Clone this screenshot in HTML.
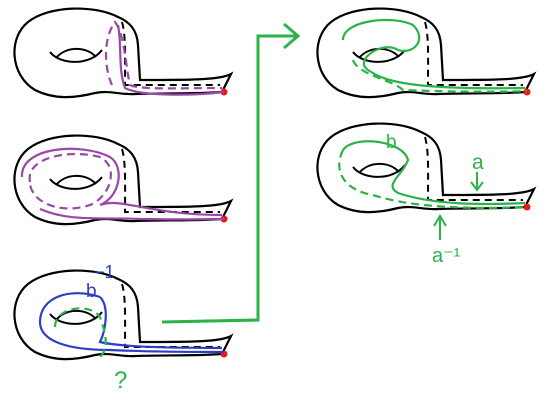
<!DOCTYPE html>
<html><head><meta charset="utf-8"><style>
html,body{margin:0;padding:0;background:#fff;width:550px;height:403px;overflow:hidden}
svg{display:block}
text{font-family:"Liberation Sans",sans-serif}
</style></head><body>
<svg width="550" height="403" viewBox="0 0 550 403">
<defs>
<g id="torus">
  <path d="M118,17 C95,5 50,5 28,22 C8,38 10,75 35,90 C55,100 75,98 95,93 C110,90 120,95 135,94 C165,93 195,94 222,92 L231,74 C220,80 190,80 140,80 L138,45 C137,30 130,22 118,17 Z" fill="none" stroke="#000" stroke-width="2.2"/>
  <path d="M50,52 C60,65 90,66 102,50" fill="none" stroke="#000" stroke-width="2"/>
  <path d="M56,58 C66,46 86,46 96,57" fill="none" stroke="#000" stroke-width="2"/>
  <path d="M122,22 C126,35 125,60 125,85 L220,85" fill="none" stroke="#000" stroke-width="2" stroke-dasharray="7,5"/>
  <circle cx="224" cy="92" r="3.5" fill="#e8191c"/>
</g>
</defs>

<g>
  <use href="#torus"/>
  <path d="M112,85 C105,70 102,40 115,22 C125,35 126,70 130,85 C140,90 180,88 222,88" fill="none" stroke="#9a48a8" stroke-width="2.2" stroke-dasharray="8,5"/>
  <path d="M118,25 C122,45 118,70 125,88 C140,96 190,96 224,92" fill="none" stroke="#9a48a8" stroke-width="2.2"/>
</g>

<g transform="translate(0,127)">
  <use href="#torus"/>
  <path d="M30,55 C25,30 70,22 100,30 C120,40 110,70 90,78 C60,88 30,75 30,55 Z" fill="none" stroke="#9a48a8" stroke-width="2.2" stroke-dasharray="8,5"/>
  <path d="M22,50 C20,20 80,15 110,30 C125,40 120,70 100,78 C120,70 150,88 222,88" fill="none" stroke="#9a48a8" stroke-width="2.2"/>
  <path d="M40,82 C70,95 100,90 140,92 C180,93 210,92 224,92" fill="none" stroke="#9a48a8" stroke-width="2.2"/>
</g>

<g transform="translate(0,262)">
  <use href="#torus"/>
  <path d="M100,35 C70,25 40,35 40,60 C40,80 70,88 110,88 C150,90 200,90 224,90" fill="none" stroke="#2c3fc4" stroke-width="2.2"/>
  <path d="M100,35 C110,45 105,70 100,80 C120,85 170,86 222,86" fill="none" stroke="#2c3fc4" stroke-width="2.2"/>
  <path d="M55,65 C55,45 90,40 100,55 C105,70 110,85 100,95" fill="none" stroke="#2bb34a" stroke-width="2.2" stroke-dasharray="8,5"/>
</g>

<g transform="translate(303,0)">
  <use href="#torus"/>
  <path d="M40,40 C40,20 90,15 110,25 C125,40 110,55 95,50 C80,40 50,60 65,70 C80,80 100,90 222,88" fill="none" stroke="#2bb34a" stroke-width="2.2"/>
  <path d="M50,60 C55,75 90,80 100,90 C150,92 200,92 224,91" fill="none" stroke="#2bb34a" stroke-width="2.2" stroke-dasharray="8,5"/>
</g>

<g transform="translate(303,115)">
  <use href="#torus"/>
  <path d="M40,35 C50,20 100,25 105,45 C100,60 80,70 95,78 C130,90 180,90 222,88" fill="none" stroke="#2bb34a" stroke-width="2.2"/>
  <path d="M40,35 C30,55 40,75 70,80 C100,90 150,95 224,92" fill="none" stroke="#2bb34a" stroke-width="2.2" stroke-dasharray="8,5"/>
</g>

<g fill="none" stroke="#2bb34a" stroke-width="3">
  <path d="M162,322 L258,320 L258,36 L296,36"/>
  <path d="M284,24 L298,36 L284,48"/>
</g>

<text x="94" y="278" font-size="18" fill="#2c3fc4">−1</text>
<text x="86" y="297" font-size="19" fill="#2c3fc4">b</text>
<text x="114" y="388" font-size="24" fill="#2bb34a">?</text>
<text x="386" y="148" font-size="19" fill="#2bb34a">b</text>
<text x="472" y="169" font-size="21" fill="#2bb34a">a</text>
<path d="M477,172 L477,188 M471,182 L477,190 L483,182" fill="none" stroke="#2bb34a" stroke-width="2"/>
<text x="432" y="262" font-size="20" fill="#2bb34a">a⁻¹</text>
<path d="M440,240 L440,218 M434,226 L440,216 L446,226" fill="none" stroke="#2bb34a" stroke-width="2"/>
</svg>
</body></html>
